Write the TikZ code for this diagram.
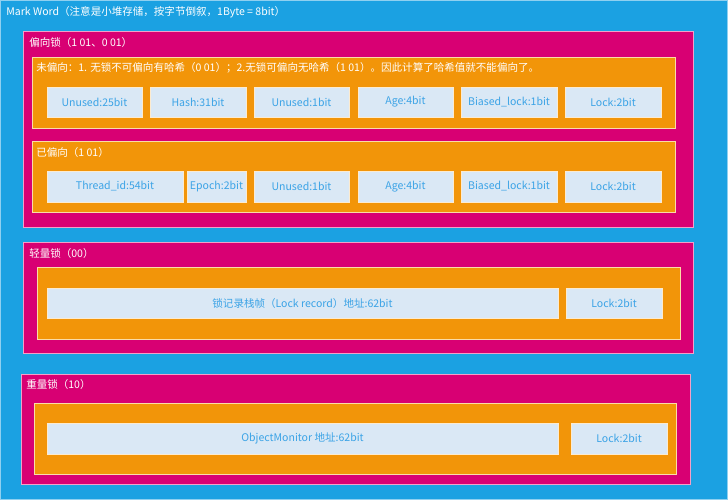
\documentclass[tikz,border=0pt]{standalone}
\usepackage{fontspec}
\setmainfont{Noto Sans CJK SC}
\usetikzlibrary{fit}
\definecolor{cblue}{HTML}{1BA1E2}
\definecolor{cbluel}{HTML}{8FD0F0}
\definecolor{cpink}{HTML}{D80073}
\definecolor{cpinkl}{HTML}{F2A0C8}
\definecolor{corange}{HTML}{F29509}
\definecolor{corangel}{HTML}{FADCA8}
\definecolor{clight}{HTML}{DAE8F5}
\definecolor{clightl}{HTML}{FCEBD0}
\definecolor{ctext}{HTML}{3BA3E6}
\tikzset{
  outerbox/.style={draw=cbluel, fill=cblue, line width=0.6pt, inner sep=0pt},
  pinkbox/.style={draw=cpinkl, fill=cpink, line width=0.6pt, inner sep=0pt},
  orangebox/.style={draw=corangel, fill=corange, line width=0.6pt, inner sep=0pt},
  fieldbox/.style={draw=clightl, fill=clight, line width=0.6pt, inner sep=0pt},
  fieldtext/.style={inner sep=0pt, text=ctext, font=\fontsize{7.9pt}{10pt}\selectfont},
  grouplabel/.style={anchor=west, inner sep=0pt, text=white, font=\fontsize{7.9pt}{10pt}\selectfont},
}
\newcommand{\bx}[6]{\node[#2, fit={(#3,#4)(#5,#6)}] (#1) {};}
\newcommand{\fld}[6]{\node[fieldbox, fit={(#2,#3)(#4,#5)}] (#1) {};
  \node[fieldtext] (#1-t) at (#1.center) {#6};}
\begin{document}
\begin{tikzpicture}[x=0.75pt, y=-0.75pt]
\useasboundingbox (0,0) rectangle (728,500);
\bx{mw}{outerbox}{0.5}{0.5}{727.5}{499.5}
\node[grouplabel] (mwlabel) at (6,12) {Mark Word（注意是小堆存储，按字节倒叙，1Byte = 8bit）};
% biased lock
\bx{bias}{pinkbox}{23.5}{31}{693}{227}
\node[grouplabel] (biaslabel) at (29,42) {偏向锁（1 01、0 01）};
\bx{unb}{orangebox}{32}{57}{675}{128}
\node[grouplabel] (unblabel) at (36,68) {未偏向：1. 无锁不可偏向有哈希（0 01）；2.无锁可偏向无哈希（1 01）。因此计算了哈希值就不能偏向了。};
\fld{a1}{47}{87}{142}{117}{Unused:25bit}
\fld{a2}{150}{87}{246}{117}{Hash:31bit}
\fld{a3}{254}{87}{349}{117}{Unused:1bit}
\fld{a4}{358}{87}{453}{117}{Age:4bit}
\fld{a5}{461}{87}{557}{117}{Biased\_lock:1bit}
\fld{a6}{565}{87}{661}{117}{Lock:2bit}
\bx{bsd}{orangebox}{32}{141}{675}{212}
\node[grouplabel] (bsdlabel) at (36,152) {已偏向（1 01）};
\fld{b1}{47}{171}{183}{202}{Thread\_id:54bit}
\fld{b2}{187}{171}{246}{202}{Epoch:2bit}
\fld{b3}{254}{171}{349}{202}{Unused:1bit}
\fld{b4}{358}{171}{453}{202}{Age:4bit}
\fld{b5}{461}{171}{557}{202}{Biased\_lock:1bit}
\fld{b6}{565}{171}{661}{202}{Lock:2bit}
% light lock
\bx{light}{pinkbox}{23.5}{242}{693}{353}
\node[grouplabel] (lightlabel) at (29,253) {轻量锁（00）};
\bx{lo}{orangebox}{37}{267}{680}{339}
\fld{c1}{47}{288}{558}{318}{锁记录栈帧（Lock record）地址:62bit}
\fld{c2}{566}{288}{662}{318}{Lock:2bit}
% heavy lock
\bx{heavy}{pinkbox}{21}{374}{690}{484}
\node[grouplabel] (heavylabel) at (26,384) {重量锁（10）};
\bx{ho}{orangebox}{34}{403}{676}{474}
\fld{d1}{47}{423}{558}{454}{ObjectMonitor 地址:62bit}
\fld{d2}{571}{423}{667}{454}{Lock:2bit}
\end{tikzpicture}
\end{document}
